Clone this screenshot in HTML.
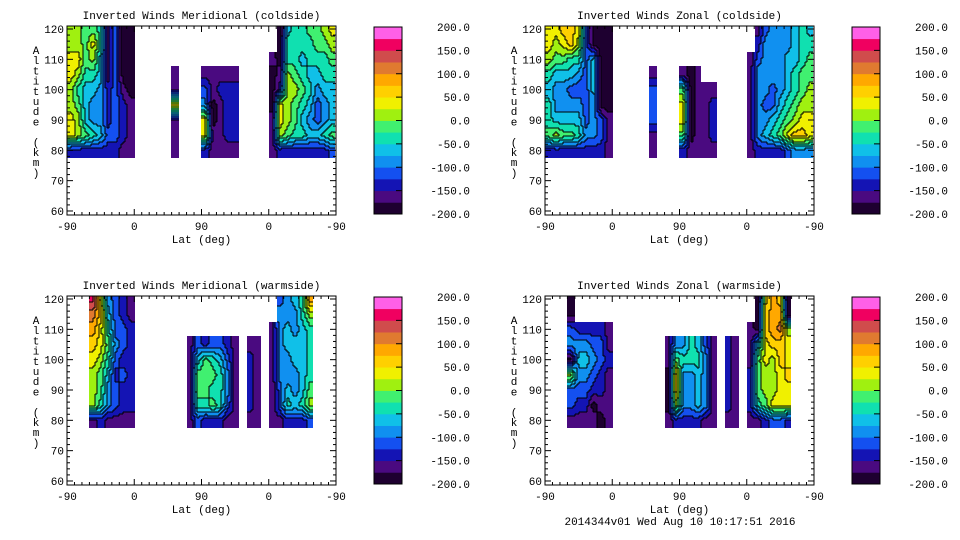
<!DOCTYPE html>
<html><head><meta charset="utf-8"><style>
html,body{margin:0;padding:0;background:#fff;}
svg{display:block;font-family:"Liberation Mono","DejaVu Sans Mono",monospace;}
</style></head><body>
<svg id="chart" width="960" height="540" viewBox="0 0 960 540" xmlns="http://www.w3.org/2000/svg"></svg>
<script>
// ---- data: rows = altitude centres (km), columns = 10-degree lat-index bins (0..35) ----
const altitudes = [120,115,110,105,100,95,90,85,80];
const xTickLabels = ["-90","0","90","0","-90"];
const yTicks = [120,110,100,90,80,70,60];
const cbarLabels = ["200.0","150.0","100.0","50.0","0.0","-50.0","-100.0","-150.0","-200.0"];
const panelTitles = ["Inverted Winds Meridional (coldside)","Inverted Winds Zonal (coldside)","Inverted Winds Meridional (warmside)","Inverted Winds Zonal (warmside)"];
const bandColors = ["#1e0030","#4a0a80","#1414b4","#1450f0","#1090f0","#10c0e8","#10e0b0","#40f070","#a0f010","#f0f000","#ffd000","#ffa800","#e07a30","#d04c4c","#f00060","#ff60e8"];
const N=null;
const merCold = {
0:[0,0,25,25,0,0,25,25,-150],1:[0,0,25,0,-50,-25,0,0,-150],2:[-25,-25,-25,-50,-75,-75,-75,-25,-150],
3:[-25,25,0,-50,-75,-100,-100,-50,-150],4:[-50,-50,-75,-75,-100,-100,-100,-75,-150],5:[-175,-175,-175,-175,-150,-150,-150,-125,-150],
6:[-125,-125,-125,-125,-125,-125,-125,-125,-150],7:[-200,-200,-200,-200,-175,-150,-150,-150,-175],8:[-200,-200,-200,-200,-200,-175,-175,-175,-175],
14:[N,N,N,-175,-175,25,-175,-175,-175],
18:[N,N,N,-175,-125,-100,25,25,-150],19:[N,N,N,-175,-175,-200,-200,-175,-175],20:[N,N,N,-175,-150,-175,-175,-175,-175],
21:[N,N,N,-175,-150,-150,-150,-150,-175],22:[N,N,N,-175,-150,-150,-150,-150,-175],
27:[N,N,-175,-200,-200,-200,-175,-175,-175],28:[-200,-200,-200,-175,-150,25,25,0,-150],29:[-75,-50,-50,0,0,0,0,-25,-150],
30:[-50,-50,-50,-25,0,-25,-25,-50,-150],31:[-50,-50,-75,-50,-25,-50,-75,-50,-150],32:[-25,-50,-50,-75,-50,-75,-100,-75,-150],
33:[-25,-25,-50,-75,-100,-125,-125,-75,-150],34:[0,-25,-50,-50,-75,-100,-100,-50,-150],35:[25,0,-25,-50,-75,-75,-75,-25,-125]
};
const zonCold = {
0:[25,25,0,-50,-75,-50,-50,-25,-150],1:[25,0,-25,-75,-100,-100,-75,0,-150],2:[50,25,-25,-75,-100,-100,-75,-25,-150],
3:[50,50,-50,-75,-125,-100,-75,-25,-150],4:[25,0,-50,-100,-125,-100,-75,-50,-150],5:[-125,-125,-125,-125,-125,-125,-125,-100,-150],
6:[-200,-200,-75,-75,-75,-100,-100,-100,-150],7:[-200,-200,-200,-200,-200,-200,-125,-125,-150],8:[-200,-200,-200,-200,-200,-200,-175,-175,-175],
14:[N,N,N,-175,-125,-125,-125,-175,-175],
18:[N,N,N,-175,-25,25,25,-25,-150],19:[N,N,N,-200,-200,-200,-200,-200,-175],20:[N,N,N,-175,-175,-175,-175,-175,-175],
21:[N,N,N,N,-175,-175,-175,-175,-175],22:[N,N,N,N,-175,-150,-150,-150,-175],
27:[N,N,-175,-175,-175,-175,-175,-175,-175],28:[-175,-150,-125,-100,-100,-100,-100,-100,-150],29:[-125,-100,-100,-100,-100,-125,-100,-75,-150],
30:[-100,-100,-100,-100,-125,-125,-75,-50,-150],31:[-100,-100,-100,-100,-100,-75,-50,-25,-150],32:[-100,-100,-75,-75,-75,-50,-25,25,-125],
33:[-75,-75,-75,-50,-50,-25,0,50,-100],34:[-50,-50,-50,-25,-25,0,25,50,-100],35:[-75,-50,-25,-25,0,0,25,25,-100]
};
const merWarm = {
3:[150,100,75,50,25,0,0,0,-175],4:[25,50,25,25,0,-25,-25,-50,-150],5:[-100,-75,-50,-25,-50,-75,-100,-100,-175],
6:[-125,-125,-125,-100,-125,-150,-125,-125,-175],7:[-150,-150,-125,-125,-150,-125,-150,-150,-175],8:[-175,-175,-150,-150,-150,-150,-150,-150,-175],
16:[N,N,N,-175,-175,-175,-175,-175,-175],17:[N,N,N,-125,-75,-25,-25,-50,-125],
18:[N,N,N,-150,-25,-25,-25,-50,-150],19:[N,N,N,-125,-50,-25,-50,-25,-150],20:[N,N,N,-125,-75,-50,-50,-50,-150],
21:[N,N,N,-150,-125,-100,-100,-125,-175],22:[N,N,N,-175,-175,-175,-175,-175,-175],
24:[N,N,N,-175,-150,-150,-150,-150,-175],25:[N,N,N,-175,-175,-175,-175,-175,-175],
27:[N,N,-175,-175,-175,-175,-175,-175,-175],28:[-125,-100,-100,-100,-100,-100,-125,-125,-175],29:[-100,-100,-75,-75,-100,-100,-75,-50,-150],
30:[-75,-100,-100,-75,-75,-100,-100,-75,-150],31:[-50,-50,-75,-75,-75,-75,-75,-50,-150],32:[75,0,-50,-50,-50,-50,-25,0,-125]
};
const zonWarm = {
3:[-200,-200,-125,-100,-200,0,-125,-125,-175],4:[N,N,-150,-100,-75,-100,-125,-150,-175],5:[N,N,-150,-100,-75,-100,-125,-150,-175],
6:[N,N,-150,-125,-100,-125,-150,-200,-175],7:[N,N,-150,-125,-125,-150,-150,-175,-200],8:[N,N,-175,-175,-150,-175,-175,-175,-175],
16:[N,N,N,-175,-175,-200,-200,-200,-175],17:[N,N,N,-100,-25,50,50,0,-150],
18:[N,N,N,-100,-50,-100,-100,-100,-150],19:[N,N,N,-50,-50,-100,-100,-100,-150],20:[N,N,N,-75,-50,-75,-75,-75,-150],
21:[N,N,N,-125,-100,-100,-100,-100,-175],22:[N,N,N,-175,-175,-175,-175,-175,-175],
24:[N,N,N,-150,-150,-150,-150,-150,-175],25:[N,N,N,-175,-175,-175,-175,-175,-175],
27:[N,N,-175,-175,-175,-150,-150,-150,-175],28:[-200,-200,-200,-75,-25,-25,-25,-50,-175],29:[25,50,50,25,25,0,0,-25,-150],
30:[75,75,75,50,0,0,0,25,-125],31:[50,75,100,50,50,25,25,25,-125],32:[-200,-200,0,25,25,50,25,25,-150]
};
const panelData=[merCold,zonCold,merWarm,zonWarm];

const svg=document.getElementById('chart');
const NS="http://www.w3.org/2000/svg";
function mk(tag,attrs,parent){const e=document.createElementNS(NS,tag);for(const k in attrs)e.setAttribute(k,attrs[k]);(parent||svg).appendChild(e);return e;}
function band(v){let i=Math.floor((v+200)/25);return Math.max(0,Math.min(15,i));}
function cellVal(data,c,r){
  if(c<0||c>35||r<0||r>8)return null;
  const col=data[c]; if(!col)return null; const v=col[r]; return (v===undefined)?null:v;
}
function sample(data,u,rf){
  const cn=Math.floor(u), rn=Math.round(rf);
  const own=cellVal(data,cn,Math.max(0,Math.min(8,rn)));
  if(own===null)return null;
  const uc=u-0.5, c0=Math.floor(uc), fu=uc-c0;
  const rc=Math.max(0,Math.min(8,rf)), r0=Math.floor(rc), fr=rc-r0;
  let s=0,w=0;
  [[c0,r0,(1-fu)*(1-fr)],[c0+1,r0,fu*(1-fr)],[c0,r0+1,(1-fu)*fr],[c0+1,r0+1,fu*fr]].forEach(q=>{
    const v=cellVal(data,q[0],Math.min(8,q[1]));
    if(v!==null&&q[2]>0){s+=v*q[2];w+=q[2];}
  });
  return w>0?s/w:own;
}

const origins=[[67,26],[545,26],[67,296],[545,296]];
origins.forEach((o,p)=>{
  const x0=o[0], top=o[1], W=269, H=189;
  const cw=W/36;
  const g=mk('g',{});
  
  
  const xs=c=>x0+c*cw;
  const ys=a=>top+3+(120-a)*3.033;
  const data=panelData[p];
  const field=mk('g',{'shape-rendering':'crispEdges'},g);
  
  
  const step=2;
  const grid=[];
  for(let py=top;py<top+H;py+=step){
    const a=120-((py+step/2)-top-3)/3.033;
    const row=[];
    const rf=(120-a)/5;
    for(let px=x0;px<x0+W;px+=step){
      if(a<77.3){row.push(null);continue;}
      const u=(px+step/2-x0)/cw;
      const v=sample(data,u,rf);
      row.push(v===null?null:band(v+12.5));
    }
    grid.push(row);
  }
  grid.forEach((row,ri)=>{
    const py=top+ri*step;
    let runStart=null, runBand=null;
    const flush=(endX)=>{
      if(runStart!==null&&runBand!==null){
        const rc=mk('rect',{x:runStart,y:py,width:endX-runStart,height:step,fill:bandColors[runBand]},field);
        
        
      }
    };
    row.forEach((b,ci)=>{
      const px=x0+ci*step;
      if(b!==runBand){flush(px);runStart=px;runBand=b;}
    });
    flush(x0+W);
  });
  // contour lines: band boundaries
  const lines=mk('g',{'shape-rendering':'crispEdges',fill:'#000'},g);
  
  
  grid.forEach((row,ri)=>{
    row.forEach((b,ci)=>{
      if(b===null)return;
      const right=row[ci+1], below=grid[ri+1]?grid[ri+1][ci]:null;
      if(right!==undefined&&right!==null&&right!==b) mk('rect',{x:x0+(ci+1)*step-0.5,y:top+ri*step,width:1,height:step},lines);
      if(below!==null&&below!==undefined&&below!==b) mk('rect',{x:x0+ci*step,y:top+(ri+1)*step-0.5,width:step,height:1},lines);
    });
  });
  const fr=mk('rect',{x:x0,y:top,width:W,height:H,fill:'none',stroke:'#000','stroke-width':1},g);
  
  
  for(let a=60;a<=120;a+=2){
    const y=ys(a); const L=(a%10===0)?6:3;
    mk('line',{x1:x0,y1:y,x2:x0+L,y2:y,stroke:'#000'},g);
    mk('line',{x1:x0+W,y1:y,x2:x0+W-L,y2:y,stroke:'#000'},g);
  }
  yTicks.forEach(a=>{
    const t=mk('text',{x:x0-3,y:ys(a)+4,'font-size':11,'text-anchor':'end'},g);
    t.textContent=a;
    
    
  });
  for(let i=0;i<=36;i++){
    const x=xs(i); const L=(i%9===0)?6:3;
    mk('line',{x1:x,y1:top+H,x2:x,y2:top+H-L,stroke:'#000'},g);
    mk('line',{x1:x,y1:top,x2:x,y2:top+L,stroke:'#000'},g);
  }
  xTickLabels.forEach((l,i)=>{
    const t=mk('text',{x:xs(i*9),y:top+H+15,'font-size':11,'text-anchor':'middle'},g);
    t.textContent=l;
    
    
  });
  const xt=mk('text',{x:x0+W/2,y:top+H+28,'font-size':11,'text-anchor':'middle'},g);
  xt.textContent='Lat (deg)';
  
  
  const tt=mk('text',{x:x0+W/2,y:top-7,'font-size':11,'text-anchor':'middle'},g);
  tt.textContent=panelTitles[p];
  
  
  const yt=mk('text',{'font-size':11,'text-anchor':'middle'},g);
  
  
  "Altitude (km)".split('').forEach((ch,i)=>{const s=mk('tspan',{x:x0-31,y:top+28+i*10.2},yt);s.textContent=ch;});
  const cx=x0+307, cy=top+1, cbw=28, ch=187;
  const cb=mk('g',{},g);
  
  
  bandColors.forEach((col,i)=>{
    const h=ch/16;
    mk('rect',{x:cx,y:(cy+ch-(i+1)*h).toFixed(2),width:cbw,height:(h+0.4).toFixed(2),fill:col},cb);
  });
  mk('rect',{x:cx,y:cy,width:cbw,height:ch,fill:'none',stroke:'#000'},cb);
  cbarLabels.forEach((l,i)=>{
    const y=cy+i*ch/8;
    mk('line',{x1:cx+cbw-6,y1:y,x2:cx+cbw,y2:y,stroke:'#000'},cb);
    const t=mk('text',{x:cx+96,y:y+4,'font-size':11,'text-anchor':'end'},cb);
    t.textContent=l;
    
    
  });
});
const ft=mk('text',{x:680,y:525,'font-size':11,'text-anchor':'middle'});
ft.textContent='2014344v01 Wed Aug 10 10:17:51 2016';


</script>
</body></html>
